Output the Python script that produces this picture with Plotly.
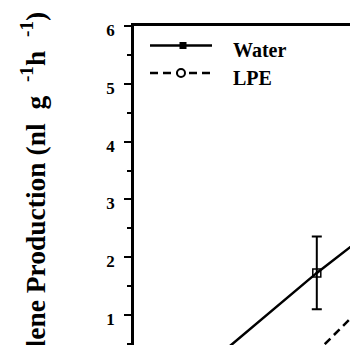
import plotly.graph_objects as go

# ---- data ----
days = [0, 2, 4, 6]
water = [0.10, 0.40, 1.73, 2.95]
water_err = [0, 0, 0.63, 0]
lpe = [0.05, 0.15, 0.36, 1.94]

y_ticks = [1, 2, 3, 4, 5, 6]
series_names = ["Water", "LPE"]
y_title = "Ethylene Production (nl  g  <sup>-1</sup>h  <sup>-1</sup>)"

W, H = 350, 345
ML, MT, MR, MB = 134, 26, 0, 0
PW, PH = W - ML - MR, H - MT - MB
FONT = "Liberation Serif, Times New Roman, serif"


def px_x(p):
    return (p - ML) / PW


def px_y(p):
    return 1 - (p - MT) / PH


fig = go.Figure()
fig.add_trace(go.Scatter(
    x=days, y=water, mode="lines+markers", name=series_names[0],
    line=dict(color="black", width=2.5),
    marker=dict(symbol="square-open-dot", size=8, color="black",
                line=dict(color="black", width=1.5)),
    error_y=dict(type="data", array=water_err, visible=True,
                 color="black", thickness=2, width=5),
    showlegend=False,
))
fig.add_trace(go.Scatter(
    x=days, y=lpe, mode="lines+markers", name=series_names[1],
    line=dict(color="black", width=2.5, dash="8px,5px"),
    marker=dict(symbol="circle-open", size=9, color="black",
                line=dict(color="black", width=2)),
    showlegend=False,
))

# manual legend (line samples + markers + labels)
shapes = []
ann = []
leg_rows = [(45.5, "solid", "square"), (73, "8px,5px", "circle")]
for (yy, dash, sym), name in zip(leg_rows, series_names):
    shapes.append(dict(type="line", xref="paper", yref="paper",
                       x0=px_x(150), x1=px_x(212), y0=px_y(yy), y1=px_y(yy),
                       line=dict(color="black", width=2.5, dash=dash)))
    if sym == "square":
        shapes.append(dict(type="rect", xref="paper", yref="paper",
                           x0=px_x(179.5), x1=px_x(186.5),
                           y0=px_y(yy - 3.5), y1=px_y(yy + 3.5),
                           fillcolor="black", line=dict(width=0)))
    else:
        shapes.append(dict(type="circle", xref="paper", yref="paper",
                           x0=px_x(177), x1=px_x(185),
                           y0=px_y(yy - 4), y1=px_y(yy + 4),
                           fillcolor="white", line=dict(color="black", width=2)))
    ann.append(dict(text="<b>" + name + "</b>", xref="paper", yref="paper",
                    x=px_x(231), y=px_y(yy + 4.5), xanchor="left", yanchor="middle",
                    showarrow=False,
                    font=dict(family=FONT, size=20, color="black")))

ann.append(dict(text="<b>" + y_title + "</b>", xref="paper", yref="paper",
                x=px_x(33), y=px_y(10), xanchor="center", yanchor="top",
                textangle=-90, showarrow=False,
                font=dict(family=FONT, size=27.5, color="black")))

fig.update_layout(
    width=W, height=H,
    margin=dict(l=ML, r=MR, t=MT, b=MB, pad=0),
    paper_bgcolor="white", plot_bgcolor="white",
    shapes=shapes, annotations=ann,
    showlegend=False,
)
fig.update_xaxes(range=[0, PW / 45.7], side="top", showline=True, linecolor="black",
                 linewidth=2.5, showticklabels=False, ticks="", showgrid=False,
                 zeroline=False)
fig.update_yaxes(range=[0.483, 6], tickvals=y_ticks,
                 ticktext=["<b>%d</b>" % v for v in y_ticks],
                 showline=True, linecolor="black", linewidth=2.5,
                 ticks="outside", ticklen=7, tickwidth=2, tickcolor="black",
                 ticklabelstandoff=6, ticklabelshift=4,
                 minor=dict(dtick=0.5, tick0=0, ticks="outside", ticklen=4,
                            tickwidth=2, tickcolor="black", showgrid=False),
                 tickfont=dict(family=FONT, size=17, color="black"),
                 showgrid=False, zeroline=False)

fig.write_html("out.html")
